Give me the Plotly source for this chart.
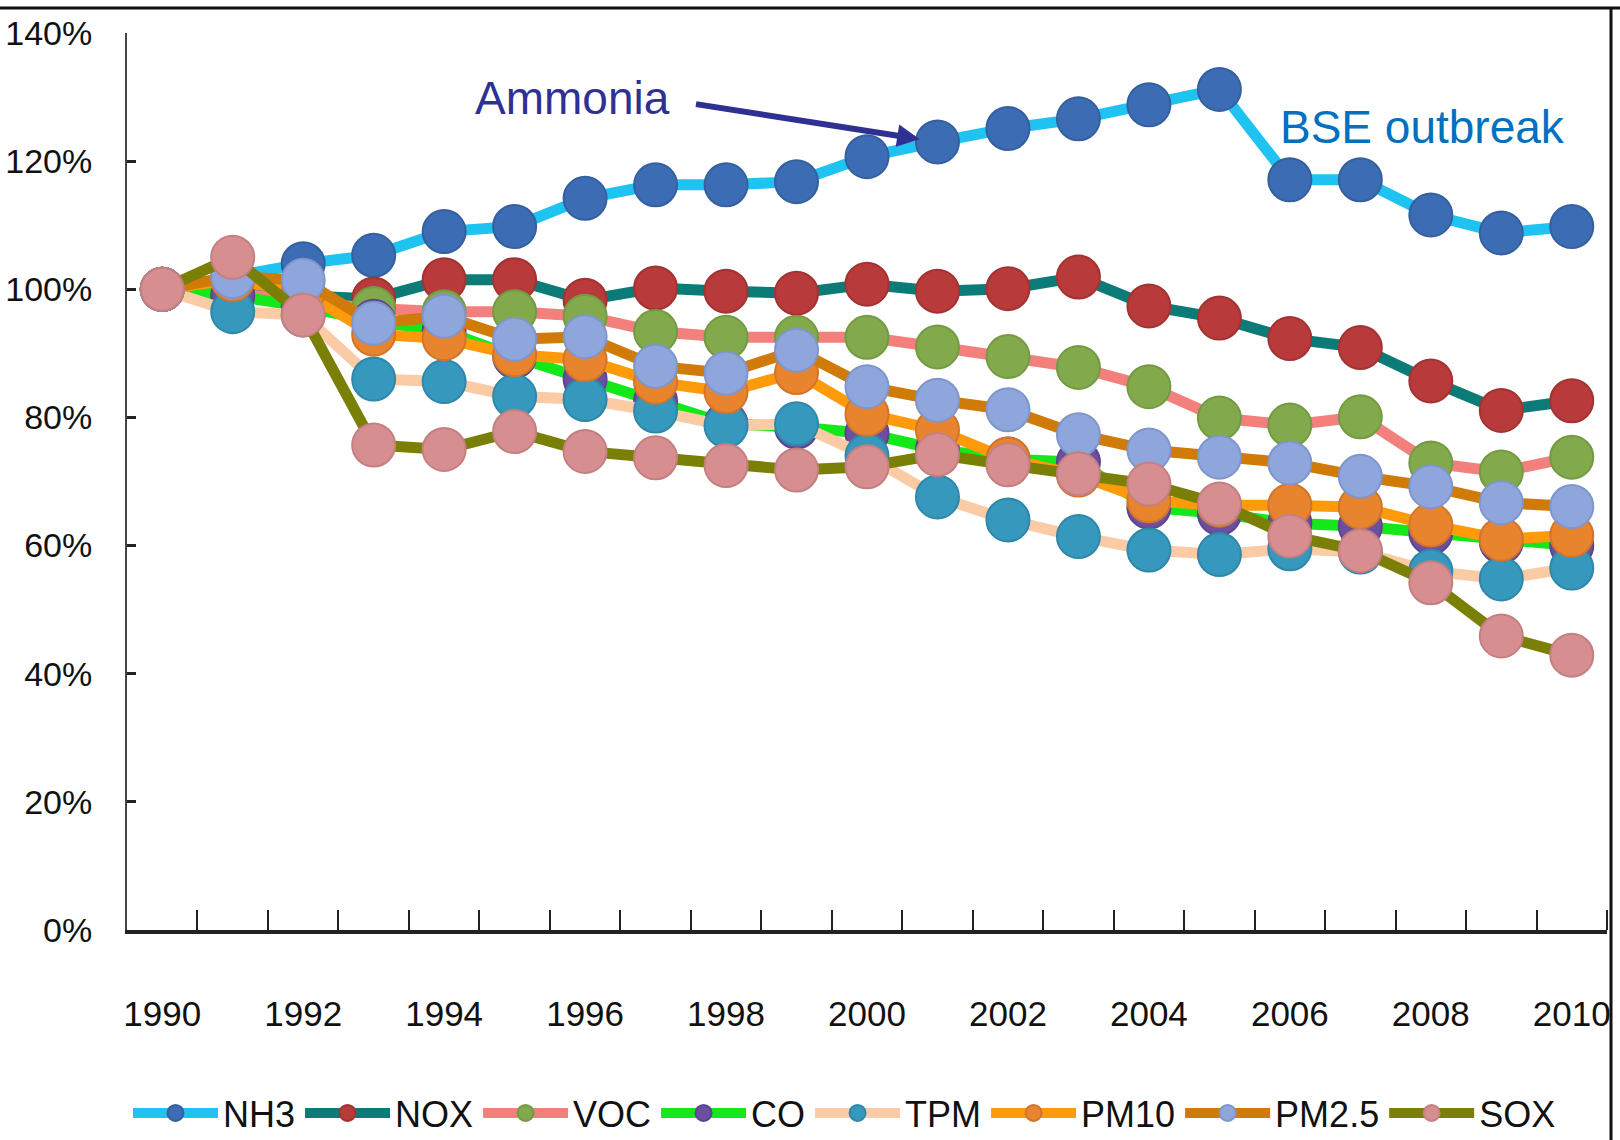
import plotly.graph_objects as go

years = list(range(1990, 2011))

nh3 = [100, 102, 104, 105.3, 109, 109.8, 114.2, 116.3, 116.3, 116.8, 120.7, 123, 125.1, 126.6, 128.8, 131.2, 117.1, 117.1, 111.6, 108.8, 109.8]
nox = [100, 100.5, 99, 98.5, 101.5, 101.5, 98.3, 100.2, 99.7, 99.4, 100.8, 99.7, 100.1, 101.9, 97.4, 95.5, 92.3, 90.9, 85.7, 81.1, 82.6]
voc = [100, 99.5, 98, 97, 96.5, 96.5, 95.8, 93.4, 92.5, 92.5, 92.5, 91, 89.5, 87.8, 84.8, 79.9, 78.8, 80.1, 72.9, 71.5, 73.8]
co = [100, 99, 97.3, 95, 93.5, 89.5, 86, 82.5, 79, 78.5, 77.5, 75, 73.5, 73, 66, 65, 63.5, 63, 62, 60.6, 60]
tpm = [100, 96.5, 96, 86, 85.6, 83.3, 82.8, 81, 78.7, 79, 74, 67.6, 64, 61.4, 59.3, 58.6, 59.5, 59, 56, 54.8, 56.5]
pm10 = [100, 101.5, 99.5, 93, 92.3, 89.8, 89, 85.5, 84, 87, 80.5, 78, 73.5, 71, 67, 66.3, 66.3, 66, 63.2, 61, 61.6]
pm25 = [100, 102, 101.4, 94.7, 95.8, 92.2, 92.6, 88, 86.9, 90.5, 84.8, 82.7, 81.2, 77.3, 74.9, 73.8, 72.9, 70.8, 69.2, 66.7, 66.1]
sox = [100, 105, 96, 75.7, 75, 77.8, 74.7, 73.7, 72.5, 71.8, 72.3, 74.2, 72.6, 71.2, 69.6, 66.5, 61.5, 59.2, 54.2, 45.9, 42.9]

names = ["NH3", "NOX", "VOC", "CO", "TPM", "PM10", "PM2.5", "SOX"]
series = [nh3, nox, voc, co, tpm, pm10, pm25, sox]
line_colors = ["#1EC3F2", "#0B7B78", "#F4807E", "#14E81A", "#FBCBA6", "#FF9A0A", "#D07A08", "#7A7F05"]
marker_colors = ["#3C6CB4", "#B83A3A", "#82A94C", "#6B4FA0", "#3598BC", "#E8842E", "#8FA6DC", "#D78E90"]
marker_edges = ["#35609F", "#A33333", "#749A43", "#5E448E", "#2F88A9", "#D2752A", "#7F96CA", "#C47F81"]

ytick_vals = [0, 20, 40, 60, 80, 100, 120, 140]
ytick_text = ["0%", "20%", "40%", "60%", "80%", "100%", "120%", "140%"]
xtick_vals = list(range(1990, 2011, 2))
xtick_text = [str(y) for y in xtick_vals]
xboundaries = [y + 0.5 for y in range(1990, 2011)]

TICKFONT = "Liberation Sans Narrow, Liberation Sans, Arial"

fig = go.Figure()
for name, vals, lc, mc, me in zip(names, series, line_colors, marker_colors, marker_edges):
    fig.add_trace(go.Scatter(
        x=years, y=vals, name=name, mode="lines+markers",
        line=dict(color=lc, width=11),
        marker=dict(color=mc, size=43, line=dict(color=me, width=2)),
    ))

L, R, T, B = 127, 13, 33, 210
W, H = 1620, 1140
pw, ph = W - L - R, H - T - B

def px(xp):
    return (xp - L) / pw

def py(yp):
    return (H - B - yp) / ph

fig.update_layout(
    width=W, height=H,
    margin=dict(l=L, r=R, t=T, b=B, pad=0, autoexpand=False),
    paper_bgcolor="white", plot_bgcolor="white",
    showlegend=True,
    legend=dict(orientation="h", x=px(128), y=py(1113), xanchor="left", yanchor="middle",
                font=dict(family=TICKFONT, size=36, color="#111"),
                itemwidth=85, tracegroupgap=0, bgcolor="rgba(0,0,0,0)"),
    xaxis=dict(range=[1989.5, 2010.5], tickvals=xtick_vals, ticktext=xtick_text,
               ticks="", showgrid=False, zeroline=False, automargin=False,
               showline=True, linecolor="#222", linewidth=4,
               tickfont=dict(family=TICKFONT, size=35, color="#111"),
               ticklabelstandoff=50,
               minor=dict(tickvals=xboundaries, ticks="inside", ticklen=20, tickwidth=2, tickcolor="#222")),
    yaxis=dict(range=[0, 140], tickvals=ytick_vals, ticktext=ytick_text,
               ticks="inside", ticklen=9, tickwidth=3, tickcolor="#222",
               showgrid=False, zeroline=False, automargin=False,
               showline=True, linecolor="#444", linewidth=2,
               tickfont=dict(family=TICKFONT, size=34, color="#111"),
               ticklabelstandoff=26),
)

# frame lines (top and right)
fig.add_shape(type="line", xref="paper", yref="paper", x0=px(0), x1=px(1620), y0=py(8), y1=py(8),
              line=dict(color="#111", width=3))
fig.add_shape(type="line", xref="paper", yref="paper", x0=px(1611), x1=px(1611), y0=py(8), y1=py(1140),
              line=dict(color="#111", width=3))

# annotations
fig.add_annotation(x=px(572), y=py(98), xref="paper", yref="paper", text="Ammonia", showarrow=False,
                   xanchor="center", yanchor="middle",
                   font=dict(family="Liberation Sans, Arial", size=46, color="#2E3192"))
fig.add_annotation(x=2001, y=nh3[11], xref="x", yref="y", text="", showarrow=True,
                   ax=-243, ay=-38, arrowhead=2, arrowsize=0.75, arrowwidth=6, arrowcolor="#2E3192",
                   standoff=18)
fig.add_annotation(x=px(1422), y=py(127), xref="paper", yref="paper", text="BSE outbreak", showarrow=False,
                   xanchor="center", yanchor="middle",
                   font=dict(family="Liberation Sans, Arial", size=46, color="#0070C0"))

fig.write_html("out.html")
